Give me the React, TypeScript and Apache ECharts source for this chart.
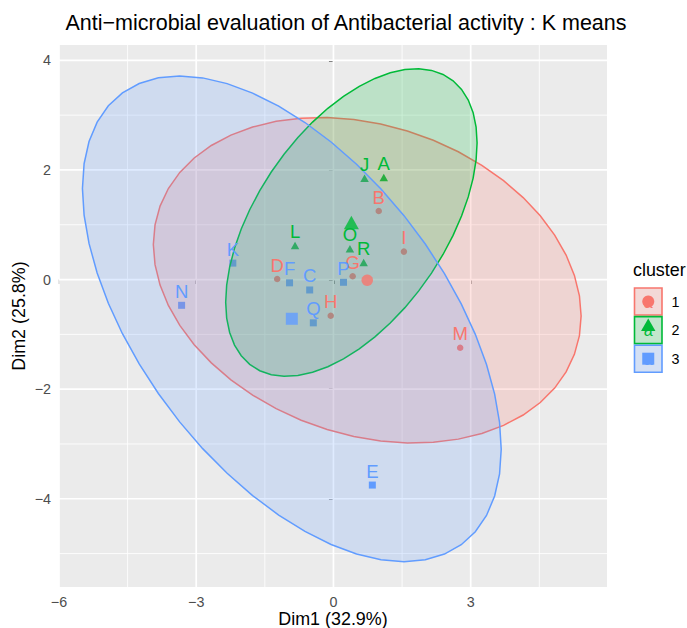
import React, { useEffect, useRef } from 'react';
import * as echarts from 'echarts';

const FONT = '"Liberation Sans", Arial, Helvetica, sans-serif';

// ---- data ----
const CLUSTERS = ['1', '2', '3'];
const COLORS = ['#F8766D', '#00BA38', '#619CFF'];
const SYMBOLS = ['circle', 'triangle', 'rect'];

const c1Names = ['B', 'I', 'D', 'G', 'H', 'M'];
const c1X = [0.99, 1.54, -1.23, 0.42, -0.06, 2.77];
const c1Y = [1.25, 0.51, 0.01, 0.06, -0.66, -1.245];

const c2Names = ['J', 'A', 'L', 'O', 'R'];
const c2X = [0.68, 1.10, -0.84, 0.36, 0.66];
const c2Y = [1.85, 1.86, 0.62, 0.56, 0.31];

const c3Names = ['K', 'F', 'C', 'P', 'Q', 'E', 'N'];
const c3X = [-2.20, -0.96, -0.52, 0.22, -0.44, 0.85, -3.32];
const c3Y = [0.30, -0.06, -0.19, -0.05, -0.79, -3.75, -0.47];

const X_MAJOR = [-6, -3, 0, 3];
const X_MINOR = [-4.5, -1.5, 1.5, 4.5];
const Y_MAJOR = [-4, -2, 0, 2, 4];
const Y_MINOR = [-5, -3, -1, 1, 3];
const X_RANGE = [-6, 5.98];
const Y_RANGE = [-5.61, 4.28];

const TITLE = 'Anti\u2212microbial evaluation of Antibacterial activity : K means';
const X_TITLE = 'Dim1 (32.9%)';
const Y_TITLE = 'Dim2 (25.8%)';
const LEGEND_TITLE = 'cluster';

const clusterNames = [c1Names, c2Names, c3Names];
const clusterXs = [c1X, c2X, c3X];
const clusterYs = [c1Y, c2Y, c3Y];

// mean of a list
const mean = (a: number[]) => a.reduce((s, v) => s + v, 0) / a.length;

// normal-theory 95% confidence ellipse of a cluster's points (as stat_ellipse type "norm")
function ellipseOf(xs: number[], ys: number[], level = 0.95, segments = 51): number[][] {
  const n = xs.length;
  const mx = mean(xs);
  const my = mean(ys);
  let sxx = 0, syy = 0, sxy = 0;
  for (let i = 0; i < n; i++) {
    sxx += (xs[i] - mx) ** 2;
    syy += (ys[i] - my) ** 2;
    sxy += (xs[i] - mx) * (ys[i] - my);
  }
  sxx /= n - 1; syy /= n - 1; sxy /= n - 1;
  const a = Math.sqrt(sxx);
  const b = sxy / a;
  const c = Math.sqrt(Math.max(syy - b * b, 0));
  const d = n - 1;
  const q = (d / 2) * (Math.pow(1 - level, -2 / d) - 1); // F(2, d) quantile
  const r = Math.sqrt(2 * q);
  const pts: number[][] = [];
  for (let i = 0; i < segments; i++) {
    const t = (2 * Math.PI * i) / (segments - 1);
    const ux = Math.cos(t), uy = Math.sin(t);
    pts.push([mx + r * ux * a, my + r * (ux * b + uy * c)]);
  }
  return pts;
}

function rgba(hex: string, a: number) {
  const v = parseInt(hex.slice(1), 16);
  return `rgba(${(v >> 16) & 255},${(v >> 8) & 255},${v & 255},${a})`;
}

const minus = (v: number) => String(v).replace('-', '\u2212');

export default function App() {
  const ref = useRef<HTMLDivElement>(null);

  useEffect(() => {
    document.body.style.margin = '0';
    if (!ref.current) return;
    const chart = echarts.init(ref.current, null, { renderer: 'svg' });

    const gridData = [
      ...X_MAJOR.map((v) => [v, 0, 0, 1]),
      ...X_MINOR.map((v) => [v, 0, 0, 0]),
      ...Y_MAJOR.map((v) => [0, v, 1, 1]),
      ...Y_MINOR.map((v) => [0, v, 1, 0]),
    ];

    const series: any[] = [];

    series.push({
      type: 'custom',
      silent: true,
      z: 1,
      data: gridData,
      encode: { x: 0, y: 1 },
      renderItem: (params: any, api: any) => {
        const cs = params.coordSys;
        const kind = api.value(2);
        const lw = api.value(3) ? 1.7 : 0.85;
        if (kind === 0) {
          const px = api.coord([api.value(0), 0])[0];
          return { type: 'line', shape: { x1: px, y1: cs.y, x2: px, y2: cs.y + cs.height }, style: { stroke: '#FFFFFF', lineWidth: lw } };
        }
        const py = api.coord([0, api.value(1)])[1];
        return { type: 'line', shape: { x1: cs.x, y1: py, x2: cs.x + cs.width, y2: py }, style: { stroke: '#FFFFFF', lineWidth: lw } };
      },
    });

    const symSmall: any[] = [6.5, [8.5, 7.5], 7];
    const symBig: any[] = [11.5, [15, 13.5], 12];

    CLUSTERS.forEach((cl, k) => {
      const xs = clusterXs[k], ys = clusterYs[k];
      series.push({
        type: 'scatter',
        name: cl,
        silent: true,
        z: 2,
        symbol: SYMBOLS[k],
        symbolSize: symSmall[k],
        itemStyle: { color: COLORS[k], opacity: 1 },
        data: xs.map((x, i) => [x, ys[i]]),
      });
    });

    CLUSTERS.forEach((cl, k) => {
      const ell = ellipseOf(clusterXs[k], clusterYs[k]);
      series.push({
        type: 'custom',
        silent: true,
        z: 3,
        data: [[mean(clusterXs[k]), mean(clusterYs[k])]],
        encode: { x: 0, y: 1 },
        renderItem: (_p: any, api: any) => ({
          type: 'polygon',
          shape: { points: ell.map((p) => api.coord(p)) },
          style: { fill: rgba(COLORS[k], 0.2), stroke: COLORS[k], lineWidth: 1.5 },
        }),
      });
    });

    CLUSTERS.forEach((cl, k) => {
      const xs = clusterXs[k], ys = clusterYs[k], names = clusterNames[k];
      series.push({
        type: 'custom',
        silent: true,
        z: 4,
        data: xs.map((x, i) => [x, ys[i]]),
        encode: { x: 0, y: 1 },
        renderItem: (params: any, api: any) => {
          const p = api.coord([api.value(0), api.value(1)]);
          return {
            type: 'text',
            x: p[0],
            y: p[1] - 14,
            style: {
              text: names[params.dataIndex],
              fill: COLORS[k],
              fontSize: 18.5,
              fontFamily: FONT,
              align: 'center',
              verticalAlign: 'middle',
            },
          };
        },
      });
    });

    CLUSTERS.forEach((cl, k) => {
      series.push({
        type: 'scatter',
        silent: true,
        z: 5,
        symbol: SYMBOLS[k],
        symbolSize: symBig[k],
        itemStyle: { color: COLORS[k] },
        data: [[mean(clusterXs[k]), mean(clusterYs[k])]],
      });
    });

    // legend drawn as graphic elements
    const legendEls: any[] = [
      {
        type: 'text',
        left: 633,
        top: 261,
        style: { text: LEGEND_TITLE, fill: '#000000', fontSize: 17.9, fontFamily: FONT },
      },
    ];
    CLUSTERS.forEach((cl, k) => {
      const kx = 634.5, ky = 288 + k * 28.6, kw = 27.5, kh = 27;
      const cx = kx + kw / 2, cy = ky + kh / 2;
      legendEls.push({ type: 'rect', shape: { x: kx, y: ky, width: kw, height: kh }, style: { fill: '#F2F2F2' } });
      legendEls.push({ type: 'rect', shape: { x: kx, y: ky, width: kw, height: kh }, style: { fill: rgba(COLORS[k], 0.2), stroke: COLORS[k], lineWidth: 1.6 } });
      legendEls.push({ type: 'text', x: cx, y: cy + 0.5, style: { text: 'a', fill: COLORS[k], fontSize: 16, fontFamily: FONT, align: 'center', verticalAlign: 'middle' } });
      if (k === 0) legendEls.push({ type: 'circle', shape: { cx, cy, r: 6 }, style: { fill: COLORS[k] } });
      if (k === 1) legendEls.push({ type: 'polygon', shape: { points: [[cx, cy - 11.5], [cx - 7.2, cy + 0.8], [cx + 7.2, cy + 0.8]] }, style: { fill: COLORS[k] } });
      if (k === 2) legendEls.push({ type: 'rect', shape: { x: cx - 6, y: cy - 6, width: 12, height: 12 }, style: { fill: COLORS[k] } });
      legendEls.push({ type: 'text', x: 671.5, y: cy, style: { text: cl, fill: '#000000', fontSize: 14.3, fontFamily: FONT, align: 'left', verticalAlign: 'middle' } });
    });

    const option: any = {
      animation: false,
      backgroundColor: '#FFFFFF',
      grid: { left: 59, right: 80, top: 45, bottom: 41, show: true, backgroundColor: '#EBEBEB', borderWidth: 0 },
      xAxis: {
        type: 'value',
        min: X_RANGE[0],
        max: X_RANGE[1],
        axisLine: { show: false },
        splitLine: { show: false },
        axisTick: { show: true, customValues: X_MAJOR, length: 4.5, lineStyle: { color: '#333333', width: 1.6 } },
        axisLabel: { customValues: X_MAJOR, formatter: (v: number) => minus(v), color: '#4D4D4D', fontSize: 14.3, fontFamily: FONT, margin: 8 },
      },
      yAxis: {
        type: 'value',
        min: Y_RANGE[0],
        max: Y_RANGE[1],
        axisLine: { show: false },
        splitLine: { show: false },
        axisTick: { show: true, customValues: Y_MAJOR, length: 4.5, lineStyle: { color: '#333333', width: 1.6 } },
        axisLabel: { customValues: Y_MAJOR, formatter: (v: number) => minus(v), color: '#4D4D4D', fontSize: 14.3, fontFamily: FONT, margin: 8 },
      },
      graphic: [
        { type: 'text', x: 346, y: 23, style: { text: TITLE, fill: '#000000', fontSize: 21.5, fontFamily: FONT, align: 'center', verticalAlign: 'middle' } },
        { type: 'text', x: 333, y: 619, style: { text: X_TITLE, fill: '#000000', fontSize: 17.9, fontFamily: FONT, align: 'center', verticalAlign: 'middle' } },
        { type: 'text', x: 19, y: 316, rotation: Math.PI / 2, style: { text: Y_TITLE, fill: '#000000', fontSize: 17.9, fontFamily: FONT, align: 'center', verticalAlign: 'middle' } },
        ...legendEls,
      ],
      series,
    };

    chart.setOption(option);
    return () => chart.dispose();
  }, []);

  return <div ref={ref} style={{ width: 687, height: 628, overflow: 'hidden' }} />;
}
